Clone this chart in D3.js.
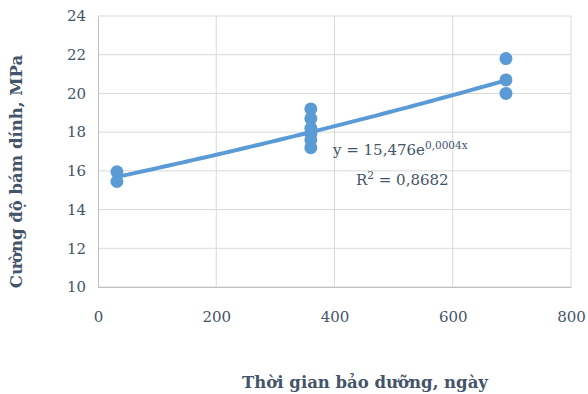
<!DOCTYPE html>
<html>
<head>
<meta charset="utf-8">
<script src="https://cdn.jsdelivr.net/npm/d3@7"></script>
<style>
  body { margin: 0; background: #fff; }
  text { font-family: 'DejaVu Serif', serif; fill: #44546a; }
</style>
</head>
<body>
<div id="chart"></div>
<script>
// Curing time (days) and bond strength (MPa)
const days = [32, 32, 360, 360, 360, 360, 360, 360, 690, 690, 690];
const strength = [15.95, 15.45, 19.2, 18.7, 18.2, 17.9, 17.6, 17.2, 21.8, 20.7, 20.0];
const xTicks = [0, 200, 400, 600, 800];
const yTicks = [10, 12, 14, 16, 18, 20, 22, 24];
const trendA = 15.476;
const trendK = 0.00042;

const totalWidth = 588;
const totalHeight = 394;
const margin = { top: 16, right: 16, bottom: 107, left: 98 };
const width = totalWidth - margin.left - margin.right;
const height = totalHeight - margin.top - margin.bottom;

const svg = d3.select('#chart')
  .append('svg')
  .attr('width', totalWidth)
  .attr('height', totalHeight)
  .append('g')
  .attr('transform', `translate(${margin.left}, ${margin.top})`);

const xScale = d3.scaleLinear().domain([0, 800]).range([0, 473]);
const yScale = d3.scaleLinear().domain([10, 24]).range([height, 0]);

// gridlines
svg.append('g')
  .selectAll('line')
  .data(yTicks)
  .join('line')
  .attr('x1', 0)
  .attr('x2', xScale(800))
  .attr('y1', (d) => yScale(d))
  .attr('y2', (d) => yScale(d))
  .attr('stroke', '#d9d9d9');

svg.append('g')
  .selectAll('line')
  .data(xTicks.slice(1))
  .join('line')
  .attr('x1', (d) => xScale(d))
  .attr('x2', (d) => xScale(d))
  .attr('y1', 0)
  .attr('y2', height)
  .attr('stroke', '#d9d9d9');

// axes
svg.append('g')
  .attr('transform', `translate(0, ${height})`)
  .call(d3.axisBottom(xScale).tickValues(xTicks).tickSize(0).tickPadding(24))
  .call((g) => g.select('.domain').attr('stroke', '#bfbfbf'))
  .selectAll('text')
  .style('font-size', '15px')
  .style('font-family', "'DejaVu Serif', serif")
  .attr('fill', '#44546a');

svg.append('g')
  .call(d3.axisLeft(yScale).tickValues(yTicks).tickSize(0).tickPadding(12))
  .call((g) => g.select('.domain').attr('stroke', '#bfbfbf'))
  .selectAll('text')
  .style('font-size', '15px')
  .style('font-family', "'DejaVu Serif', serif")
  .attr('fill', '#44546a');

// trendline
const d3Line = d3.line()
  .x((d) => xScale(d))
  .y((d) => yScale(trendA * Math.exp(trendK * d)));
const xMin = d3.min(days);
const xMax = d3.max(days);
const trendX = d3.range(xMin, xMax + 1, 10).concat([xMax]);

// points
svg.append('g')
  .selectAll('circle')
  .data(days)
  .join('circle')
  .attr('cx', (d) => xScale(d))
  .attr('cy', (d, i) => yScale(strength[i]))
  .attr('r', 6.5)
  .attr('fill', '#5b9bd5');

svg.append('path')
  .datum(trendX)
  .attr('fill', 'none')
  .attr('stroke', '#5b9bd5')
  .attr('stroke-width', 4)
  .attr('d', d3Line);

// equation labels
const eq = svg.append('text')
  .attr('x', 235)
  .attr('y', 139)
  .style('font-size', '15px');
eq.append('tspan').text('y = 15,476e');
eq.append('tspan').attr('dy', -6).style('font-size', '10.5px').text('0,0004x');

const r2 = svg.append('text')
  .attr('x', 258)
  .attr('y', 169)
  .style('font-size', '15px');
r2.append('tspan').text('R');
r2.append('tspan').attr('dy', -6).style('font-size', '10.5px').text('2');
r2.append('tspan').attr('dy', 6).text(' = 0,8682');

// axis titles
svg.append('text')
  .attr('text-anchor', 'middle')
  .attr('x', 267)
  .attr('y', height + 101)
  .style('font-size', '16.5px')
  .style('font-weight', 'bold')
  .text('Thời gian bảo dưỡng, ngày');

svg.append('text')
  .attr('text-anchor', 'middle')
  .attr('transform', `translate(-76, ${height / 2 + 20}) rotate(-90)`)
  .style('font-size', '16.5px')
  .style('font-weight', 'bold')
  .text('Cường độ bám dính, MPa');
</script>
</body>
</html>
